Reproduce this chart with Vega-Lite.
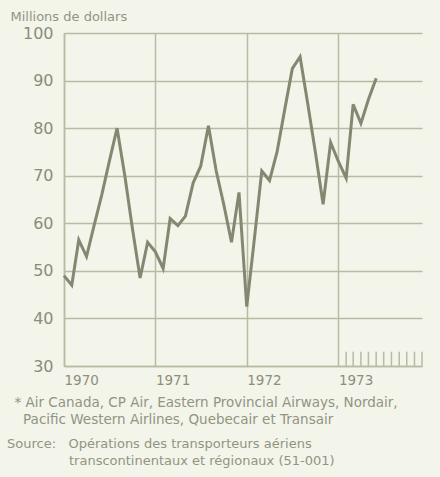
{
  "$schema": "https://vega.github.io/schema/vega-lite/v6.json",
  "width": 358,
  "height": 333,
  "autosize": {"type": "none"},
  "padding": {"left": 64, "top": 33, "right": 18, "bottom": 111},
  "background": "#f3f4ea",
  "config": {"view": {"stroke": null}, "font": "DejaVu Sans"},
  "title": {
    "text": ["Source:\u00a0\u00a0\u00a0Opérations des transporteurs aériens", "\u200b\u00a0\u00a0\u00a0\u00a0\u00a0\u00a0\u00a0\u00a0\u00a0\u00a0\u00a0\u00a0\u00a0\u00a0\u00a0transcontinentaux et régionaux (51-001)"],
    "orient": "bottom",
    "anchor": "start",
    "frame": "group",
    "dx": -57,
    "offset": 12,
    "fontSize": 13,
    "fontWeight": "normal",
    "font": "DejaVu Sans",
    "color": "#919482",
    "lineHeight": 17,
    "baseline": "top"
  },
  "datasets": {
    "revenus": [
      {"mois": "1970-01-01", "valeur": 49},
      {"mois": "1970-02-01", "valeur": 47},
      {"mois": "1970-03-01", "valeur": 56.5},
      {"mois": "1970-04-01", "valeur": 53},
      {"mois": "1970-05-01", "valeur": 59.5},
      {"mois": "1970-06-01", "valeur": 66},
      {"mois": "1970-07-01", "valeur": 73},
      {"mois": "1970-08-01", "valeur": 80},
      {"mois": "1970-09-01", "valeur": 70},
      {"mois": "1970-10-01", "valeur": 59},
      {"mois": "1970-11-01", "valeur": 48.5},
      {"mois": "1970-12-01", "valeur": 56},
      {"mois": "1971-01-01", "valeur": 54},
      {"mois": "1971-02-01", "valeur": 50.5},
      {"mois": "1971-03-01", "valeur": 61},
      {"mois": "1971-04-01", "valeur": 59.5},
      {"mois": "1971-05-01", "valeur": 61.5},
      {"mois": "1971-06-01", "valeur": 68.5},
      {"mois": "1971-07-01", "valeur": 72},
      {"mois": "1971-08-01", "valeur": 80.5},
      {"mois": "1971-09-01", "valeur": 71},
      {"mois": "1971-10-01", "valeur": 64},
      {"mois": "1971-11-01", "valeur": 56},
      {"mois": "1971-12-01", "valeur": 66.5},
      {"mois": "1972-01-01", "valeur": 42.5},
      {"mois": "1972-02-01", "valeur": 57},
      {"mois": "1972-03-01", "valeur": 71},
      {"mois": "1972-04-01", "valeur": 69},
      {"mois": "1972-05-01", "valeur": 75},
      {"mois": "1972-06-01", "valeur": 84},
      {"mois": "1972-07-01", "valeur": 92.5},
      {"mois": "1972-08-01", "valeur": 95},
      {"mois": "1972-09-01", "valeur": 85},
      {"mois": "1972-10-01", "valeur": 75},
      {"mois": "1972-11-01", "valeur": 64},
      {"mois": "1972-12-01", "valeur": 77},
      {"mois": "1973-01-01", "valeur": 73},
      {"mois": "1973-02-01", "valeur": 69.5},
      {"mois": "1973-03-01", "valeur": 85},
      {"mois": "1973-04-01", "valeur": 81},
      {"mois": "1973-05-01", "valeur": 86},
      {"mois": "1973-06-01", "valeur": 90.5}
    ],
    "mois1973": [
      {"mois": "1973-02-01"},
      {"mois": "1973-03-01"},
      {"mois": "1973-04-01"},
      {"mois": "1973-05-01"},
      {"mois": "1973-06-01"},
      {"mois": "1973-07-01"},
      {"mois": "1973-08-01"},
      {"mois": "1973-09-01"},
      {"mois": "1973-10-01"},
      {"mois": "1973-11-01"},
      {"mois": "1973-12-01"}
    ]
  },
  "layer": [
    {
      "data": {"name": "revenus"},
      "mark": {"type": "line", "color": "#838870", "strokeWidth": 3},
      "encoding": {
        "x": {
          "field": "mois",
          "type": "temporal",
          "scale": {"type": "utc", "domain": ["1970-01-01", "1973-12-01"]},
          "axis": {
            "values": [
              {"year": 1970, "month": 1, "date": 1, "utc": true},
              {"year": 1971, "month": 1, "date": 1, "utc": true},
              {"year": 1972, "month": 1, "date": 1, "utc": true},
              {"year": 1973, "month": 1, "date": 1, "utc": true}
            ],
            "format": "%Y",
            "grid": true,
            "gridColor": "#b7bba4",
            "gridWidth": 1.5,
            "domain": true,
            "domainColor": "#b7bba4",
            "domainWidth": 1.5,
            "ticks": false,
            "labelAlign": "left",
            "labelBaseline": "middle",
            "labelPadding": 14,
            "labelFontSize": 13.5,
            "labelColor": "#8c8f7c",
            "labelFont": "DejaVu Sans",
            "title": ["* Air Canada, CP Air, Eastern Provincial Airways, Nordair,", "\u200b\u00a0\u00a0Pacific Western Airlines, Quebecair et Transair"],
            "titleAlign": "left",
            "titleAnchor": "start",
            "titleX": -50,
            "titleY": 40,
            "titleBaseline": "alphabetic",
            "titleLineHeight": 17,
            "titleFontSize": 13.5,
            "titleFontWeight": "normal",
            "titleFont": "DejaVu Sans",
            "titleColor": "#919482"
          }
        },
        "y": {
          "field": "valeur",
          "type": "quantitative",
          "scale": {"domain": [30, 100], "nice": false, "zero": false},
          "axis": {
            "values": [30, 40, 50, 60, 70, 80, 90, 100],
            "grid": true,
            "gridColor": "#b7bba4",
            "gridWidth": 1.5,
            "domain": true,
            "domainColor": "#b7bba4",
            "domainWidth": 1.5,
            "ticks": false,
            "labelPadding": 11,
            "labelFontSize": 16,
            "labelColor": "#8a8d7a",
            "labelFont": "DejaVu Sans",
            "title": "Millions de dollars",
            "titleAngle": 0,
            "titleAlign": "left",
            "titleBaseline": "alphabetic",
            "titleX": -54,
            "titleY": -13,
            "titleFontSize": 13,
            "titleFontWeight": "normal",
            "titleFont": "DejaVu Sans",
            "titleColor": "#919482"
          }
        }
      }
    },
    {
      "data": {"name": "mois1973"},
      "mark": {"type": "rule", "color": "#b7bba4", "strokeWidth": 1.5},
      "encoding": {
        "x": {"field": "mois", "type": "temporal"},
        "y": {"datum": 30},
        "y2": {"datum": 33}
      }
    }
  ]
}
